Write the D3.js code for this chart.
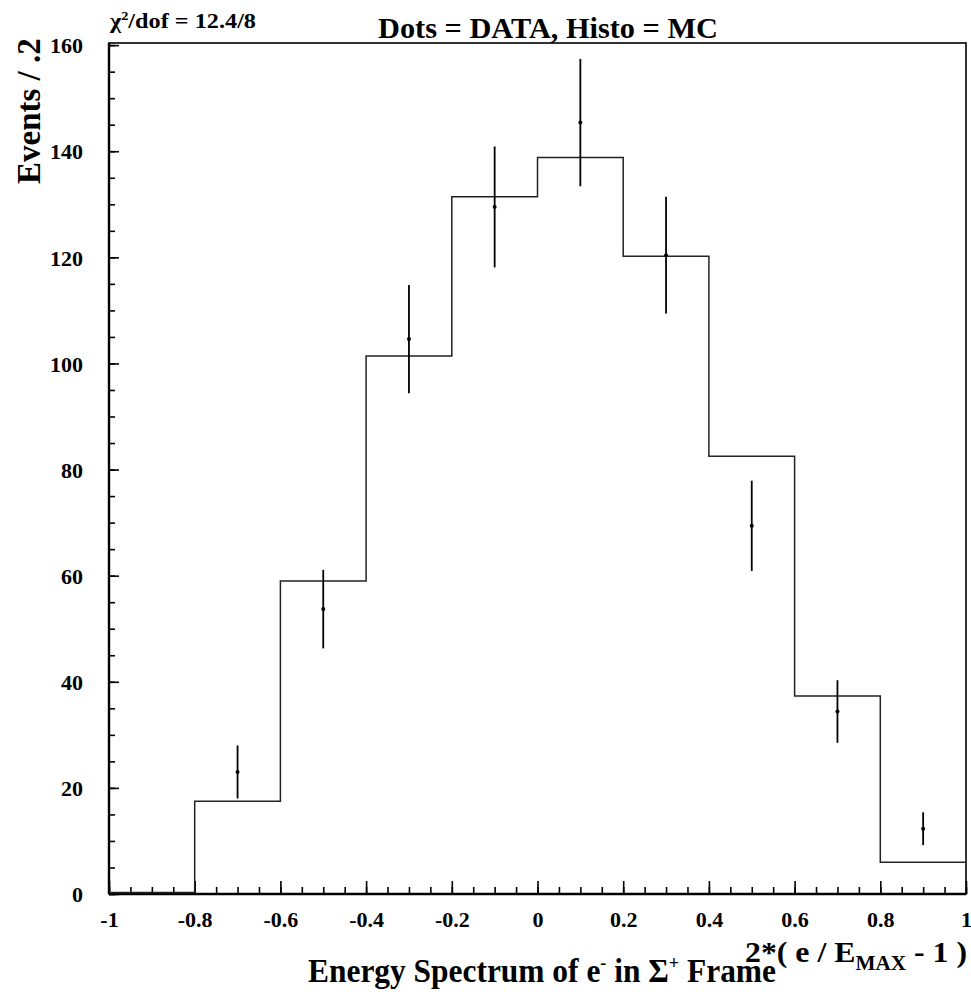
<!DOCTYPE html>
<html>
<head>
<meta charset="utf-8">
<script src="https://cdn.jsdelivr.net/npm/d3@7"></script>
<style>
  body { margin: 0; background: #fff; }
  svg text { font-family: "Liberation Serif", Tinos, "Times New Roman", Times, "DejaVu Serif", serif; font-weight: bold; fill: #000; }
</style>
</head>
<body>
<div id="chart"></div>
<script>
// histogram bins (MC) and data points
var binEdges = [-1, -0.8, -0.6, -0.4, -0.2, 0, 0.2, 0.4, 0.6, 0.8, 1];
var mcCounts = [0.3, 17.5, 59, 101.4, 131.4, 138.8, 120.2, 82.5, 37.3, 6];

var dataX = [-0.7, -0.5, -0.3, -0.1, 0.1, 0.3, 0.5, 0.7, 0.9];
var dataY = [23, 53.7, 104.6, 129.5, 145.4, 120.4, 69.4, 34.4, 12.3];
var dataErr = [5, 7.4, 10.2, 11.4, 12, 11, 8.5, 5.9, 3.1];

var xTicks = [-1, -0.8, -0.6, -0.4, -0.2, 0, 0.2, 0.4, 0.6, 0.8, 1];
var yTicks = [0, 20, 40, 60, 80, 100, 120, 140, 160];

var svgWidth = 971;
var svgHeight = 994;
var margin = { top: 43, right: 5, bottom: 100, left: 109 };
var width = 966 - margin.left;
var height = 894 - margin.top;

var svg = d3.select("#chart")
  .append("svg")
  .attr("width", svgWidth)
  .attr("height", svgHeight);

var chartGroup = svg.append("g")
  .attr("transform", "translate(" + margin.left + "," + margin.top + ")");

var xScale = d3.scaleLinear().domain([-1, 1]).range([0, width]);
var yScale = d3.scaleLinear().domain([0, 160.4]).range([height, 0]);

// minor ticks (inside the frame)
var xMinor = d3.range(-1, 1.0001, 0.05);
var yMinor = d3.range(0, 160.001, 5);

var bottomAxis = d3.axisBottom(xScale)
  .tickValues(xMinor)
  .tickSizeInner(-7)
  .tickSizeOuter(0)
  .tickFormat("");
var bottomMajor = d3.axisBottom(xScale)
  .tickValues(xTicks)
  .tickSizeInner(-13)
  .tickSizeOuter(0)
  .tickPadding(17)
  .tickFormat(function(d) { return String(d); });

var leftAxis = d3.axisLeft(yScale)
  .tickValues(yMinor)
  .tickSizeInner(-6)
  .tickSizeOuter(0)
  .tickFormat("");
var leftMajor = d3.axisLeft(yScale)
  .tickValues(yTicks)
  .tickSizeInner(-10)
  .tickSizeOuter(0)
  .tickPadding(26)
  .tickFormat(function(d) { return String(d); });

chartGroup.append("g")
  .attr("transform", "translate(0," + height + ")")
  .call(bottomAxis);
chartGroup.append("g")
  .attr("class", "xmajor")
  .attr("transform", "translate(0," + height + ")")
  .call(bottomMajor);
chartGroup.append("g").call(leftAxis);
chartGroup.append("g").attr("class", "ymajor").call(leftMajor);

chartGroup.selectAll(".domain").remove();
chartGroup.selectAll("g").attr("font-family", null);
chartGroup.selectAll(".tick line").attr("stroke", "#000").attr("stroke-width", 1.6);
chartGroup.selectAll(".xmajor text")
  .style("font-size", "22px")
  .attr("fill", "#000");
chartGroup.selectAll(".ymajor text")
  .style("font-size", "22px")
  .attr("dy", "0.35em")
  .attr("fill", "#000");

// frame
chartGroup.append("rect")
  .attr("x", 0)
  .attr("y", 0)
  .attr("width", width)
  .attr("height", height)
  .attr("fill", "none")
  .attr("stroke", "#000")
  .attr("stroke-width", 1.6);
chartGroup.append("line")
  .attr("x1", 0).attr("x2", 0).attr("y1", 0).attr("y2", height)
  .attr("stroke", "#000").attr("stroke-width", 2.4);
chartGroup.append("line")
  .attr("x1", 0).attr("x2", width).attr("y1", height).attr("y2", height)
  .attr("stroke", "#000").attr("stroke-width", 2.4);

// MC histogram
var histPoints = binEdges.map(function(e, i) {
  return [e, i < mcCounts.length ? mcCounts[i] : mcCounts[mcCounts.length - 1]];
});
var histLine = d3.line()
  .x(function(d) { return xScale(d[0]); })
  .y(function(d) { return yScale(d[1]); })
  .curve(d3.curveStepAfter);

chartGroup.append("path")
  .datum(histPoints)
  .attr("d", histLine)
  .attr("fill", "none")
  .attr("stroke", "#222")
  .attr("stroke-width", 1.5);

// data points with error bars
var pts = dataX.map(function(x, i) { return { x: x, y: dataY[i], e: dataErr[i] }; });

chartGroup.selectAll(".err")
  .data(pts)
  .enter()
  .append("line")
  .attr("class", "err")
  .attr("x1", function(d) { return xScale(d.x); })
  .attr("x2", function(d) { return xScale(d.x); })
  .attr("y1", function(d) { return yScale(d.y - d.e); })
  .attr("y2", function(d) { return yScale(d.y + d.e); })
  .attr("stroke", "#000")
  .attr("stroke-width", 1.8);

chartGroup.selectAll(".dot")
  .data(pts)
  .enter()
  .append("circle")
  .attr("class", "dot")
  .attr("cx", function(d) { return xScale(d.x); })
  .attr("cy", function(d) { return yScale(d.y); })
  .attr("r", 2)
  .attr("fill", "#000");

// titles and labels
svg.append("text")
  .attr("x", 110)
  .attr("y", 28)
  .attr("textLength", 146)
  .attr("lengthAdjust", "spacingAndGlyphs")
  .style("font-size", "22px")
  .html("χ<tspan dy='-8' font-size='13px'>2</tspan><tspan dy='8'>/dof = 12.4/8</tspan>");

svg.append("text")
  .attr("x", 378)
  .attr("y", 38)
  .attr("textLength", 340)
  .attr("lengthAdjust", "spacingAndGlyphs")
  .style("font-size", "29px")
  .text("Dots = DATA, Histo = MC");

svg.append("text")
  .attr("transform", "translate(40,184) rotate(-90)")
  .attr("text-anchor", "start")
  .style("font-size", "33px")
  .text("Events / .2");

svg.append("text")
  .attr("x", 308)
  .attr("y", 982)
  .attr("textLength", 468)
  .attr("lengthAdjust", "spacingAndGlyphs")
  .style("font-size", "33px")
  .html("Energy Spectrum of e<tspan dy='-13' font-size='19px'>-</tspan><tspan dy='13'> in Σ</tspan><tspan dy='-13' font-size='19px'>+</tspan><tspan dy='13'> Frame</tspan>");

svg.append("text")
  .attr("x", 745)
  .attr("y", 962)
  .attr("textLength", 222)
  .attr("lengthAdjust", "spacingAndGlyphs")
  .style("font-size", "30px")
  .html("2*( e / E<tspan dy='8' font-size='20px'>MAX</tspan><tspan dy='-8'> - 1 )</tspan>");
</script>
</body>
</html>
